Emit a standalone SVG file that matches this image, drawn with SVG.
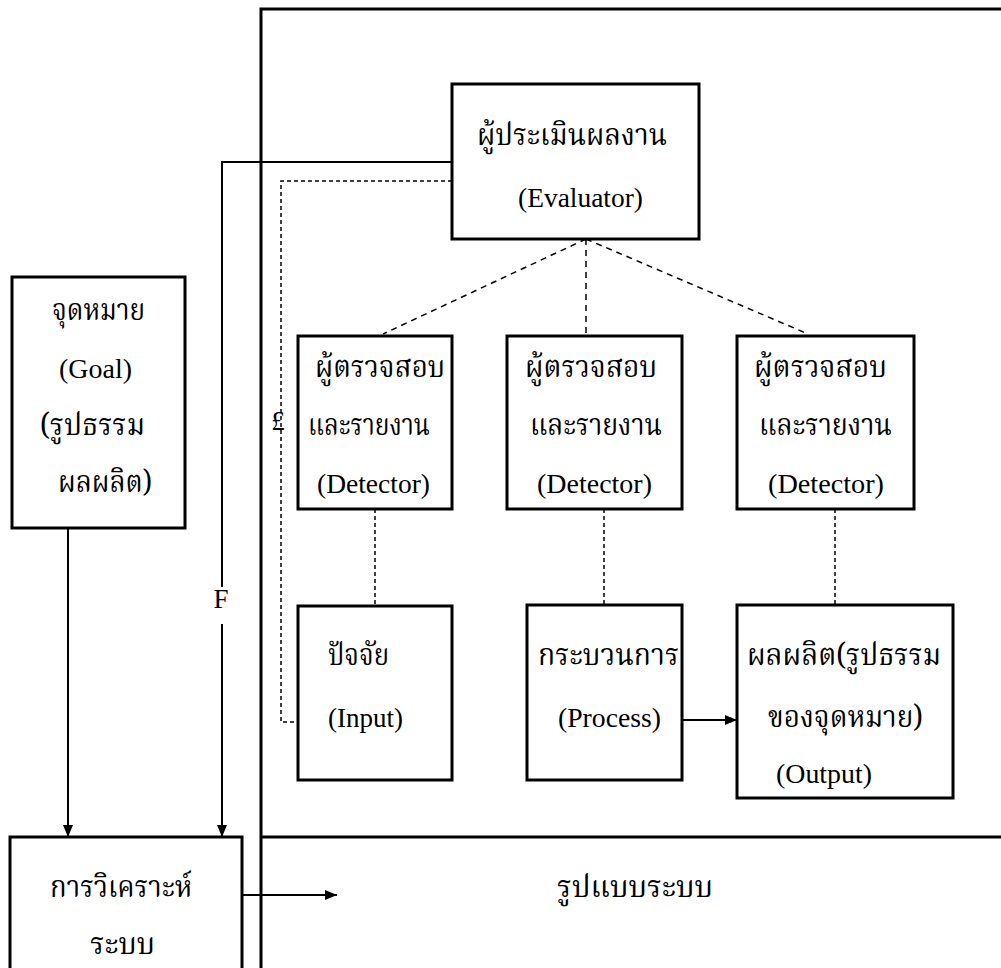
<svg xmlns="http://www.w3.org/2000/svg" width="1001" height="968" viewBox="0 0 1001 968">
<defs>
<marker id="arr" markerWidth="12" markerHeight="10" refX="12" refY="5" orient="auto" markerUnits="userSpaceOnUse">
<path d="M0,0 L12,5 L0,10 Z" fill="#000"/>
</marker>
<style>
.box{fill:#fff;stroke:#000;stroke-width:3}
.frame{fill:none;stroke:#000;stroke-width:3}
.solid{fill:none;stroke:#000;stroke-width:2}
.dash{fill:none;stroke:#000;stroke-width:1.5;stroke-dasharray:6 5}
.dot{fill:none;stroke:#000;stroke-width:1.5;stroke-dasharray:4 3}
.th{font-family:"Noto Serif Thai","Noto Sans Thai","Liberation Serif",serif;font-size:30px;fill:#000}
.en{font-family:"Liberation Serif",serif;font-size:27px;fill:#000}
</style>
</defs>
<rect width="1001" height="968" fill="#fff"/>
<g id="frame">
<path class="frame" d="M1010 9 H261 V975"/>
<path class="frame" d="M261 837 H1010"/>
</g>
<g id="connectors">
<path class="solid" d="M452 162 H222 V587"/>
<path class="solid" d="M222 624 V837" marker-end="url(#arr)"/>
<path class="solid" d="M68 528 V837" marker-end="url(#arr)"/>
<path class="solid" d="M242 895 H337" marker-end="url(#arr)"/>
<path class="solid" d="M682 720 H737" marker-end="url(#arr)"/>
<path class="dot" d="M452 181 H281 V722 H298"/>
<path class="dash" d="M586 239 L383 334"/>
<path class="dash" d="M586 239 L586 336"/>
<path class="dash" d="M586 239 L808 334"/>
<path class="dot" d="M375 509 V606"/>
<path class="dot" d="M604 509 V605"/>
<path class="dot" d="M835 509 V605"/>
<text class="en" x="221" y="608" text-anchor="middle" font-size="26">F</text>
<text class="en" x="278" y="430" text-anchor="middle" font-size="22">£</text>
</g>
<g id="evaluator">
<rect class="box" x="452" y="84" width="247" height="155"/>
<text class="th" x="477" y="145" textLength="190" lengthAdjust="spacingAndGlyphs">ผู้ประเมินผลงาน</text>
<text class="en" x="518" y="207" textLength="125" lengthAdjust="spacingAndGlyphs">(Evaluator)</text>
</g>
<g id="goal">
<rect class="box" x="12" y="277" width="173" height="251"/>
<text class="th" x="52" y="320" textLength="93" lengthAdjust="spacingAndGlyphs">จุดหมาย</text>
<text class="en" x="59" y="378" textLength="73" lengthAdjust="spacingAndGlyphs">(Goal)</text>
<text class="th" x="40" y="435" textLength="105" lengthAdjust="spacingAndGlyphs">(รูปธรรม</text>
<text class="th" x="58" y="492" textLength="94" lengthAdjust="spacingAndGlyphs">ผลผลิต)</text>
</g>
<g id="detector1">
<rect class="box" x="298" y="336" width="154" height="173"/>
<text class="th" x="315" y="377" textLength="130" lengthAdjust="spacingAndGlyphs">ผู้ตรวจสอบ</text>
<text class="th" x="308" y="435" textLength="122" lengthAdjust="spacingAndGlyphs">และรายงาน</text>
<text class="en" x="317" y="493" textLength="113" lengthAdjust="spacingAndGlyphs">(Detector)</text>
</g>
<g id="detector2">
<rect class="box" x="507" y="336" width="175" height="173"/>
<text class="th" x="525" y="377" textLength="132" lengthAdjust="spacingAndGlyphs">ผู้ตรวจสอบ</text>
<text class="th" x="530" y="435" textLength="132" lengthAdjust="spacingAndGlyphs">และรายงาน</text>
<text class="en" x="537" y="493" textLength="115" lengthAdjust="spacingAndGlyphs">(Detector)</text>
</g>
<g id="detector3">
<rect class="box" x="737" y="336" width="177" height="173"/>
<text class="th" x="754" y="377" textLength="133" lengthAdjust="spacingAndGlyphs">ผู้ตรวจสอบ</text>
<text class="th" x="759" y="435" textLength="133" lengthAdjust="spacingAndGlyphs">และรายงาน</text>
<text class="en" x="768" y="493" textLength="116" lengthAdjust="spacingAndGlyphs">(Detector)</text>
</g>
<g id="input">
<rect class="box" x="298" y="606" width="154" height="174"/>
<text class="th" x="328" y="665" textLength="61" lengthAdjust="spacingAndGlyphs">ปัจจัย</text>
<text class="en" x="328" y="727" textLength="75" lengthAdjust="spacingAndGlyphs">(Input)</text>
</g>
<g id="process">
<rect class="box" x="527" y="605" width="155" height="175"/>
<text class="th" x="538" y="665" textLength="141" lengthAdjust="spacingAndGlyphs">กระบวนการ</text>
<text class="en" x="558" y="727" textLength="103" lengthAdjust="spacingAndGlyphs">(Process)</text>
</g>
<g id="output">
<rect class="box" x="737" y="605" width="216" height="193"/>
<text class="th" x="747" y="665" textLength="194" lengthAdjust="spacingAndGlyphs">ผลผลิต(รูปธรรม</text>
<text class="th" x="768" y="727" textLength="155" lengthAdjust="spacingAndGlyphs">ของจุดหมาย)</text>
<text class="en" x="776" y="783" textLength="96" lengthAdjust="spacingAndGlyphs">(Output)</text>
</g>
<g id="analysis">
<path class="box" d="M10 975 V837 H242 V975"/>
<text class="th" x="50" y="897" textLength="142" lengthAdjust="spacingAndGlyphs">การวิเคราะห์</text>
<text class="th" x="90" y="954" textLength="65" lengthAdjust="spacingAndGlyphs">ระบบ</text>
</g>
<g id="model">
<text class="th" x="557" y="897" textLength="156" lengthAdjust="spacingAndGlyphs">รูปแบบระบบ</text>
</g>
</svg>
